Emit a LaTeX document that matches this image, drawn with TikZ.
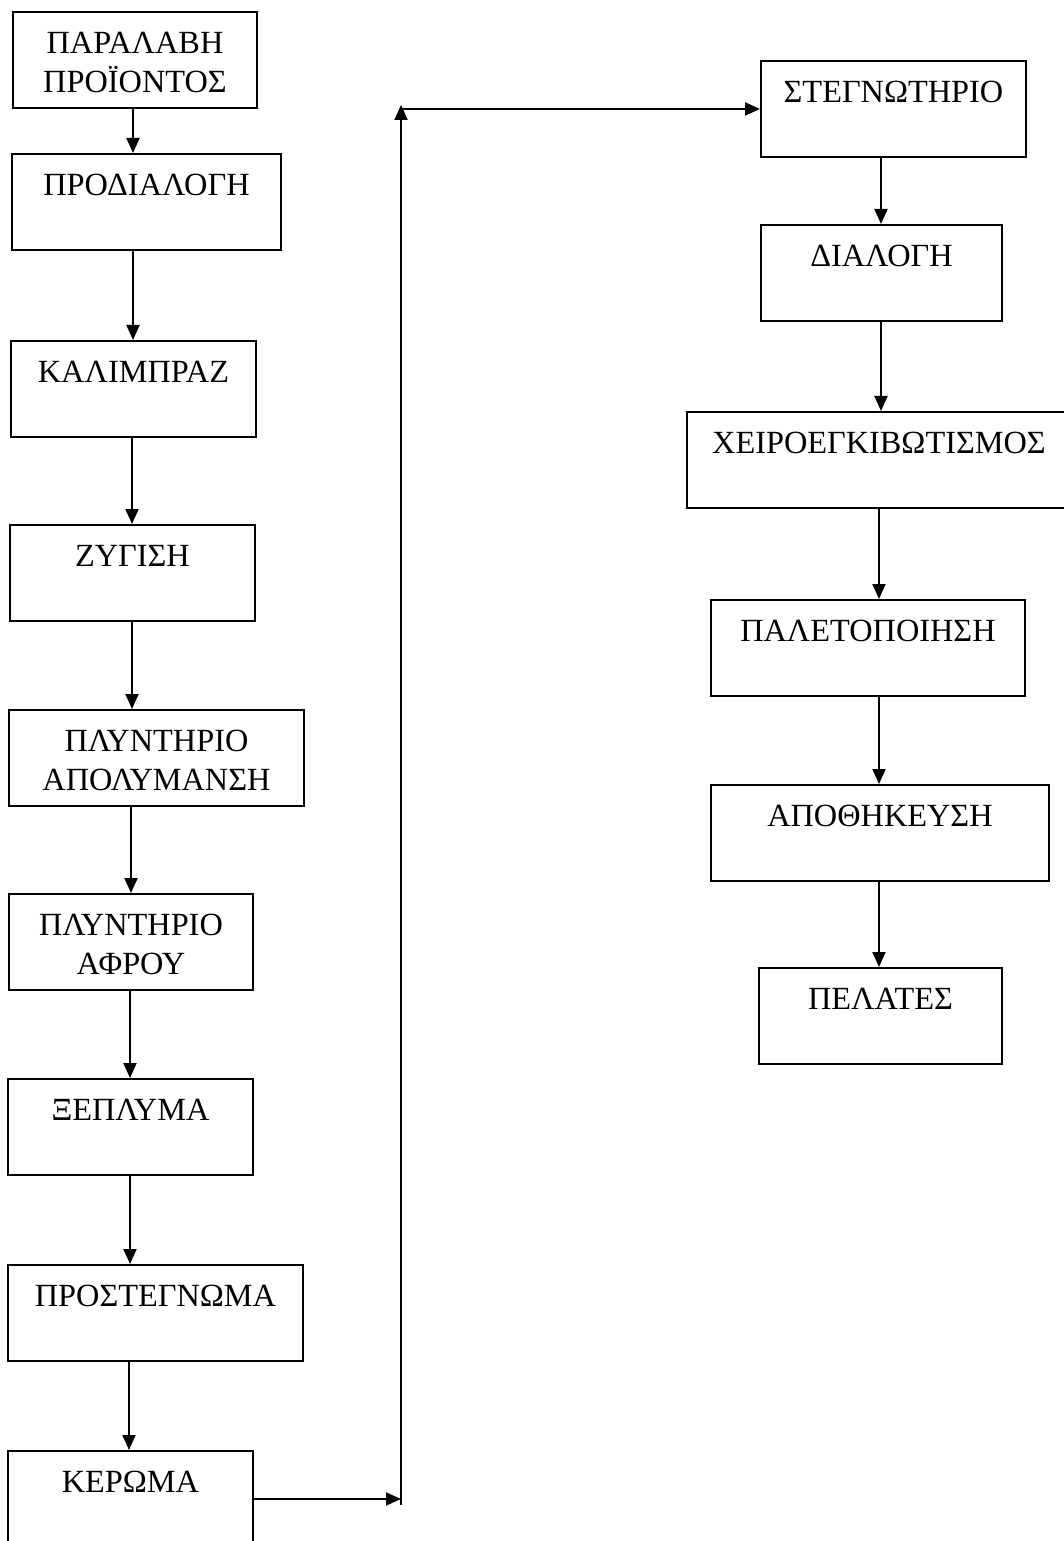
\documentclass[tikz,border=0pt]{standalone}
\usepackage{fontspec}
\setmainfont{Liberation Serif}
\usetikzlibrary{arrows.meta}
\newcommand{\px}{0.2mm}
\newcommand{\heightstage}{96*\px}
\tikzset{
    common/.style={draw, rectangle, line width=1.1pt, anchor=north west, inner sep=0pt},
    stage/.style={common, minimum height=\heightstage},
    caption/.style={anchor=north, yshift=-21*\px, inner sep=0pt, align=center, font=\fontsize{18.4}{22}\selectfont},
    flow/.style={line width=1.1pt, -{Triangle[length=3mm, width=2.6mm]}}
}

\begin{document}
\begin{tikzpicture}[x=\px, y=-\px]
        \useasboundingbox (0,0) rectangle (1063,1541);

        % left column
        \node[stage, minimum width=244*\px, label={[caption]north:{ΠΑΡΑΛΑΒΗ\\ΠΡΟΪΟΝΤΟΣ}}] (paralavi) at (12,11) {};
        \node[stage, minimum width=269*\px, label={[caption]north:ΠΡΟΔΙΑΛΟΓΗ}] (prodialogi) at (11,153) {};
        \node[stage, minimum width=245*\px, label={[caption]north:ΚΑΛΙΜΠΡΑΖ}] (kalimpraz) at (10,340) {};
        \node[stage, minimum width=245*\px, label={[caption]north:ΖΥΓΙΣΗ}] (zygisi) at (9,524) {};
        \node[stage, minimum width=295*\px, label={[caption]north:{ΠΛΥΝΤΗΡΙΟ\\ΑΠΟΛΥΜΑΝΣΗ}}] (apolymansi) at (8,709) {};
        \node[stage, minimum width=244*\px, label={[caption]north:{ΠΛΥΝΤΗΡΙΟ\\ΑΦΡΟΥ}}] (afrou) at (8,893) {};
        \node[stage, minimum width=245*\px, label={[caption]north:ΞΕΠΛΥΜΑ}] (xeplyma) at (7,1078) {};
        \node[stage, minimum width=295*\px, label={[caption]north:ΠΡΟΣΤΕΓΝΩΜΑ}] (prostegnoma) at (7,1264) {};
        \node[stage, minimum width=245*\px, label={[caption]north:ΚΕΡΩΜΑ}] (keroma) at (7,1450) {};

        % right column
        \node[stage, minimum width=265*\px, label={[caption]north:ΣΤΕΓΝΩΤΗΡΙΟ}] (stegnotirio) at (760,60) {};
        \node[stage, minimum width=241*\px, label={[caption]north:ΔΙΑΛΟΓΗ}] (dialogi) at (760,224) {};
        \node[stage, minimum width=384*\px, label={[caption]north:ΧΕΙΡΟΕΓΚΙΒΩΤΙΣΜΟΣ}] (kivotismos) at (686,411) {};
        \node[stage, minimum width=314*\px, label={[caption]north:ΠΑΛΕΤΟΠΟΙΗΣΗ}] (paletopoiisi) at (710,599) {};
        \node[stage, minimum width=338*\px, label={[caption]north:ΑΠΟΘΗΚΕΥΣΗ}] (apothikefsi) at (710,784) {};
        \node[stage, minimum width=243*\px, label={[caption]north:ΠΕΛΑΤΕΣ}] (pelates) at (758,967) {};

        \foreach \a/\b/\x in {paralavi/prodialogi/133, prodialogi/kalimpraz/133, kalimpraz/zygisi/132,
                zygisi/apolymansi/132, apolymansi/afrou/131, afrou/xeplyma/130, xeplyma/prostegnoma/130,
                prostegnoma/keroma/129, stegnotirio/dialogi/881, dialogi/kivotismos/881,
                kivotismos/paletopoiisi/879, paletopoiisi/apothikefsi/879, apothikefsi/pelates/879}{
            \coordinate (axis) at (\x,0);
            \draw[flow] (\a.south -| axis) -- (\b.north -| axis);
        }

        % return path
        \coordinate (riserbottom) at (401,1505);
        \coordinate (risertop) at (401,105);
        \draw[flow] (keroma.east) -- (keroma.east -| riserbottom);
        \draw[flow] (riserbottom) -- (risertop);
        \draw[flow] (stegnotirio.west -| risertop) -- (stegnotirio.west);
    \end{tikzpicture}
\end{document}
